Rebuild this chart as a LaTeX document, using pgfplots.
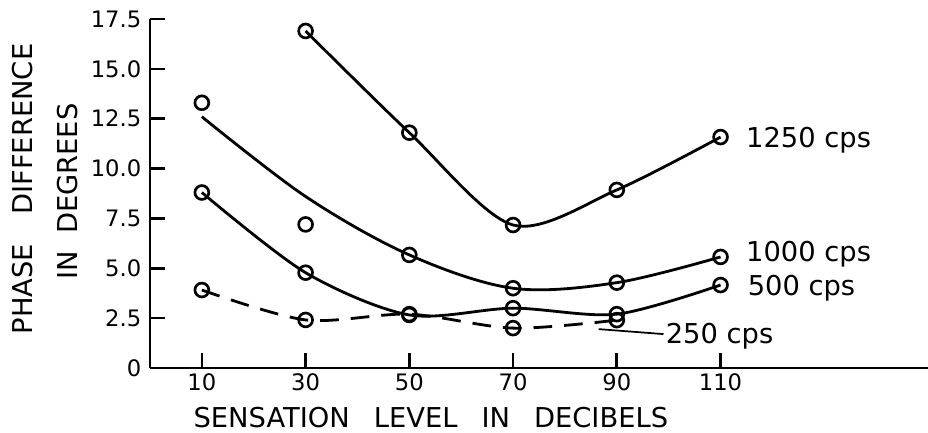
\documentclass[border=0pt]{standalone}
\usepackage{fontspec}
\setmainfont{DejaVu Sans}
\usepackage{pgfplots}
\pgfplotsset{compat=1.18}
\begin{document}
\begin{tikzpicture}
\begin{axis}[
  scale only axis, width=583.5pt, height=261.75pt,
  xmin=0, xmax=150, ymin=0, ymax=17.5,
  axis lines=left, axis line style={line width=2pt, -},
  clip=false,
  xtick={10,30,50,70,90,110},
  ytick={0,2.5,5,7.5,10,12.5,15,17.5},
  yticklabels={0,2.5,5.0,7.5,10.0,12.5,15.0,17.5},
  minor tick num=0,
  tick align=inside, major tick length=11pt,
  tick style={line width=2pt, black},
  /pgf/number format/assume math mode=true,
  ticklabel style={font=\fontsize{17}{18}\selectfont},
  yticklabel style={xshift=-3pt},
  xticklabel style={yshift=-1pt},
  every axis plot/.append style={line width=2.1pt, black},
]
% 1250 cps
\addplot[smooth, tension=0.5, mark=o, mark size=5.2pt, mark options={solid, fill=white, line width=2pt}]
  coordinates {(30,16.9) (50,11.8) (70,7.17) (90,8.93) (110,11.58)};
% 1000 cps fitted curve
\addplot[smooth, tension=0.55, no marks]
  coordinates {(10,12.6) (30,8.6) (50,5.67) (70,4.0) (90,4.28) (110,5.57)};
% 1000 cps observations
\addplot[only marks, mark=o, mark size=5.2pt, mark options={solid, fill=white, line width=2pt}]
  coordinates {(10,13.3) (30,7.2) (50,5.67) (70,4.0) (90,4.28) (110,5.57)};
% 250 cps
\addplot[smooth, tension=0.5, dash pattern=on 14pt off 9pt, mark=o, mark size=5.2pt, mark options={solid, fill=white, line width=2pt}]
  coordinates {(10,3.91) (30,2.41) (50,2.7) (70,2.0) (90,2.4)};
% 500 cps
\addplot[smooth, tension=0.5, mark=o, mark size=5.2pt, mark options={solid, fill=white, line width=2pt}]
  coordinates {(10,8.8) (30,4.78) (50,2.66) (70,3.0) (90,2.7) (110,4.16)};
% leader line for 250 cps
\draw[line width=1.3pt] (axis cs:86.5,1.95) -- (axis cs:99,1.7);
% curve labels
\node[anchor=base west, inner sep=0pt, font=\fontsize{20.5}{21}\selectfont] at (axis cs:114.9,11.08) {1250 cps};
\node[anchor=base west, inner sep=0pt, font=\fontsize{20.5}{21}\selectfont] at (axis cs:114.9,5.32) {1000 cps};
\node[anchor=base west, inner sep=0pt, font=\fontsize{20.5}{21}\selectfont] at (axis cs:115.2,3.66) {500 cps};
\node[anchor=base west, inner sep=0pt, font=\fontsize{20.5}{21}\selectfont] at (axis cs:99.4,1.25) {250 cps};
% axis labels
\node[anchor=base, inner sep=0pt, font=\fontsize{20.5}{21}\selectfont] at ([yshift=-44.25pt]rel axis cs:0.361,0) {SENSATION\hspace{18pt}LEVEL\hspace{18pt}IN\hspace{18pt}DECIBELS};
\node[anchor=base, rotate=90, inner sep=0pt, font=\fontsize{20.5}{21}\selectfont] at ([xshift=-87.75pt]rel axis cs:0,0.513) {PHASE\hspace{22pt}DIFFERENCE};
\node[anchor=base, rotate=90, inner sep=0pt, font=\fontsize{20.5}{21}\selectfont] at ([xshift=-54pt]rel axis cs:0,0.506) {IN\hspace{12.75pt}DEGREES};
\end{axis}
\pgfresetboundingbox
\path ([xshift=-112.5pt,yshift=-48pt]current axis.south west) rectangle ([yshift=14.25pt]current axis.north east);
\end{tikzpicture}
\end{document}
